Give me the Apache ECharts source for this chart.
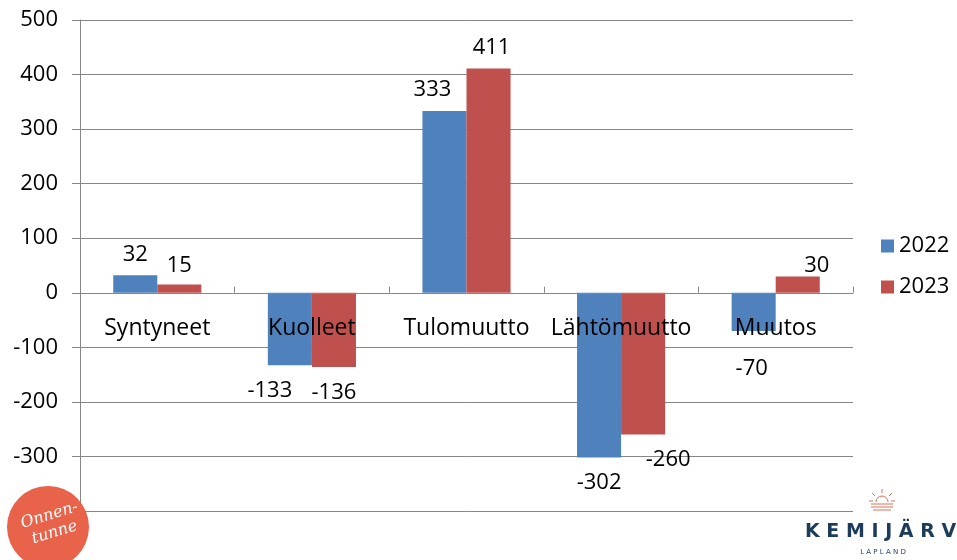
<!DOCTYPE html>
<html><head><meta charset="utf-8">
<script src="https://cdn.jsdelivr.net/npm/echarts@6/dist/echarts.min.js"></script>
<style>html,body{margin:0;padding:0;background:#fff}#c{width:957px;height:560px}</style>
</head><body><div id="c"></div>
<script>
const categories = ['Syntyneet', 'Kuolleet', 'Tulomuutto', 'Lähtömuutto', 'Muutos'];
const values2022 = [32, -133, 333, -302, -70];
const values2023 = [15, -136, 411, -260, 30];
const seriesNames = ['2022', '2023'];
const yTicks = { min: -400, max: 500, interval: 100 };

// label nudges (Excel moved some data labels to avoid overlaps)
const nudge2022 = [[0, 0], [-20, 4], [-12, 0], [0, 4], [-2, 17]];
const nudge2023 = [[0, 2], [0, 5], [3, 0], [25, 4], [19, 10]];

const FONT = '"Open Sans", "Liberation Sans", sans-serif';
const G = { left: 80, right: 104, top: 20, bottom: 49 };
const H = 560 - G.top - G.bottom;
const zeroY = G.top + H * (yTicks.max / (yTicks.max - yTicks.min));
const xOffset = -((560 - G.bottom) - zeroY);

const chart = echarts.init(document.getElementById('c'));

function mk(vals, nudges) {
  return vals.map((v, i) => ({
    value: v,
    label: {
      position: v < 0 ? 'bottom' : 'top',
      offset: nudges[i]
    }
  }));
}

chart.setOption({
  animation: false,
  textStyle: { fontFamily: FONT },
  grid: Object.assign({ containLabel: false }, G),
  legend: {
    orient: 'vertical', left: 876, top: 230,
    itemWidth: 13, itemHeight: 13, itemGap: 19,
    icon: 'rect',
    textStyle: { fontSize: 22, color: '#000', fontFamily: FONT },
    data: seriesNames
  },
  xAxis: {
    type: 'category', data: categories, offset: xOffset, z: 10,
    axisLine: { onZero: false, lineStyle: { color: '#868686', width: 1 } },
    axisTick: { show: true, inside: true, length: 6, lineStyle: { color: '#868686' } },
    axisLabel: { interval: 0, margin: 24, fontSize: 23, color: '#000', fontFamily: FONT }
  },
  yAxis: {
    type: 'value', min: yTicks.min, max: yTicks.max, interval: yTicks.interval,
    axisLine: { show: true, lineStyle: { color: '#868686' } },
    axisTick: { show: true, length: 8, lineStyle: { color: '#868686' } },
    splitLine: { lineStyle: { color: '#868686', width: 1 } },
    axisLabel: { margin: 22, fontSize: 22, color: '#000', fontFamily: FONT }
  },
  series: [
    {
      name: seriesNames[0], type: 'bar', data: mk(values2022, nudge2022),
      itemStyle: { color: '#4F81BD' }, barGap: '0%', barCategoryGap: '43%',
      label: { show: true, distance: 10, fontSize: 22, color: '#000', fontFamily: FONT }
    },
    {
      name: seriesNames[1], type: 'bar', data: mk(values2023, nudge2023),
      itemStyle: { color: '#C0504D' }, barGap: '0%', barCategoryGap: '43%',
      label: { show: true, distance: 10, fontSize: 22, color: '#000', fontFamily: FONT }
    }
  ],
  graphic: [
    { type: 'circle', shape: { cx: 48, cy: 527, r: 41 }, style: { fill: '#E8634A' }, z: 100 },
    { type: 'text', x: 52, y: 524, rotation: 0.3, z: 101,
      style: { text: 'Onnen-\ntunne', fill: '#fff', font: 'italic 16px "DejaVu Serif", serif', align: 'center', verticalAlign: 'middle', lineHeight: 18 } },
    { type: 'group', x: 882, y: 502, z: 100, children: [
      { type: 'arc', shape: { cx: 0, cy: 0, r: 6, startAngle: Math.PI, endAngle: 2 * Math.PI }, style: { stroke: '#E07050', fill: 'none', lineWidth: 1 } },
      { type: 'line', shape: { x1: 0, y1: -9, x2: 0, y2: -13 }, style: { stroke: '#E07050' } },
      { type: 'line', shape: { x1: -7, y1: -6, x2: -10, y2: -9 }, style: { stroke: '#E07050' } },
      { type: 'line', shape: { x1: 7, y1: -6, x2: 10, y2: -9 }, style: { stroke: '#E07050' } },
      { type: 'line', shape: { x1: -9, y1: -1, x2: -13, y2: -1 }, style: { stroke: '#E07050' } },
      { type: 'line', shape: { x1: 9, y1: -1, x2: 13, y2: -1 }, style: { stroke: '#E07050' } },
      { type: 'line', shape: { x1: -11, y1: 2, x2: 11, y2: 2 }, style: { stroke: '#E07050' } },
      { type: 'line', shape: { x1: -11, y1: 5, x2: 11, y2: 5 }, style: { stroke: '#E07050' } },
      { type: 'line', shape: { x1: -9, y1: 8, x2: 9, y2: 8 }, style: { stroke: '#E07050' } }
    ] },
    { type: 'text', x: 805, y: 532, z: 100,
      style: { text: 'K E M I J Ä R V I', fill: '#1D3C5A', font: 'bold 19px "DejaVu Sans", sans-serif', verticalAlign: 'middle' } },
    { type: 'text', x: 883, y: 552, z: 100,
      style: { text: 'L A P L A N D', fill: '#1D3C5A', font: '7px "DejaVu Sans", sans-serif', align: 'center', verticalAlign: 'middle' } }
  ]
});
</script>
</body></html>
